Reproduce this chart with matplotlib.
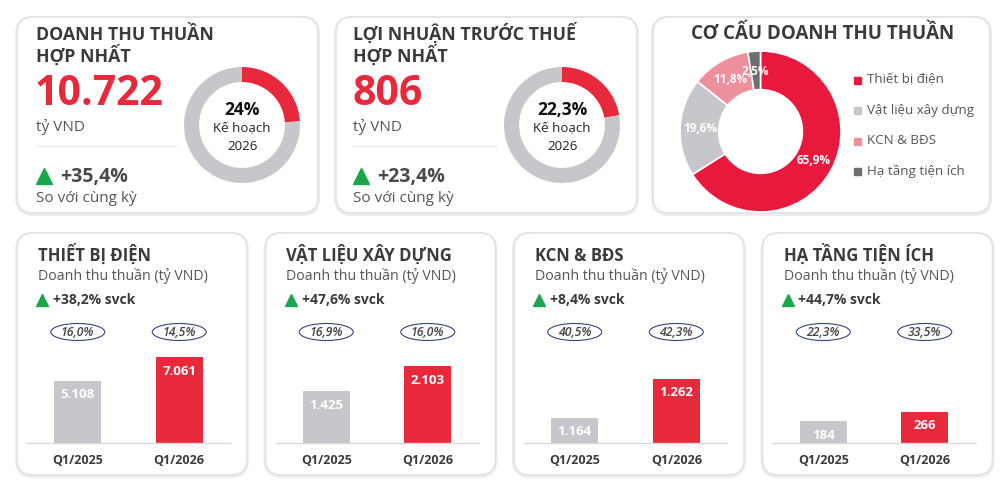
import matplotlib
matplotlib.use("Agg")
import numpy as np
import matplotlib.pyplot as plt
from matplotlib.patches import FancyBboxPatch, Ellipse

plt.rcParams['font.family'] = ['Open Sans', 'DejaVu Sans']

# ---- data ----
kpi_titles = [["DOANH THU THUẦN", "HỢP NHẤT"], ["LỢI NHUẬN TRƯỚC THUẾ", "HỢP NHẤT"]]
kpi_values = ["10.722", "806"]
kpi_growth = ["+35,4%", "+23,4%"]
kpi_plan_pct = [24.0, 22.3]

seg_names = ["Thiết bị điện", "Vật liệu xây dựng", "KCN & BĐS", "Hạ tầng tiện ích"]
seg_share = [65.9, 19.6, 11.8, 2.5]

seg_titles = ["THIẾT BỊ ĐIỆN", "VẬT LIỆU XÂY DỰNG", "KCN & BĐS", "HẠ TẦNG TIỆN ÍCH"]
seg_growth = ["+38,2% svck", "+47,6% svck", "+8,4% svck", "+44,7% svck"]
periods = ["Q1/2025", "Q1/2026"]
rev_2025 = [5108, 1425, 1164, 184]
rev_2026 = [7061, 2103, 1262, 266]
margin_2025 = ["16,0%", "16,9%", "40,5%", "22,3%"]
margin_2026 = ["14,5%", "16,0%", "42,3%", "33,5%"]

# ---- styles ----
RED = '#e8293b'
PIE_RED = '#e8193c'
GREY = '#c7c6cb'
PINK = '#ee8f9c'
DARK = '#6e6e6e'
GREEN = '#1ba64b'
TITLE = '#3b3b3b'
BODY = '#555555'
seg_colors = [PIE_RED, GREY, PINK, DARK]
bar_ylims = [(0, 11800), (0, 3930), (1101, 1461), (0, 1218)]

W, H = 1000, 483
fig = plt.figure(figsize=(10, 4.83), dpi=100)
fig.patch.set_facecolor('white')
bg = fig.add_axes([0, 0, 1, 1])
bg.set_xlim(0, W)
bg.set_ylim(H, 0)
bg.axis('off')


def card(x0, y0, x1, y1):
    # soft shadow then the card itself
    bg.add_patch(FancyBboxPatch((x0, y0 + 1), x1 - x0, y1 - y0,
                                boxstyle="round,pad=0,rounding_size=16",
                                fc='none', ec='#eeeeee', lw=3))
    bg.add_patch(FancyBboxPatch((x0, y0), x1 - x0, y1 - y0,
                                boxstyle="round,pad=0,rounding_size=16",
                                fc='white', ec='#e2e2e2', lw=1.2))


def fig_axes(cx, cy, r):
    return fig.add_axes([(cx - r) / W, (H - cy - r) / H, 2 * r / W, 2 * r / H])


# ---- top KPI cards ----
for i, (x0, x1, dcx) in enumerate([(17, 318, 242), (336, 637, 562)]):
    card(x0, 17, x1, 213)
    tx = x0 + 19 if i == 0 else x0 + 17
    bg.text(tx, 40, kpi_titles[i][0], fontsize=12.8, fontweight='bold', color=TITLE, va='baseline')
    bg.text(tx, 62, kpi_titles[i][1], fontsize=12.8, fontweight='bold', color=TITLE, va='baseline')
    bg.text(tx - 1, 105, kpi_values[i], fontsize=29.5, fontweight='bold', color=RED, va='baseline')
    bg.text(tx, 131, "tỷ VND", fontsize=11, color=BODY, va='baseline')
    bg.plot([tx, x0 + 160], [146, 146], color='#ebebeb', lw=1)
    bg.plot([tx + 8], [176], marker='^', ms=11, color=GREEN, mec=GREEN)
    bg.text(tx + 24, 182, kpi_growth[i], fontsize=14, fontweight='bold', color='#4a4a4a', va='baseline')
    bg.text(tx, 202, "So với cùng kỳ", fontsize=11, color=BODY, va='baseline')

    ax = fig_axes(dcx, 125, 58)
    ax.pie([kpi_plan_pct[i], 100 - kpi_plan_pct[i]], colors=[RED, GREY], startangle=90,
           counterclock=False, wedgeprops=dict(width=0.26, edgecolor='none'))
    ax.set_xlim(-1, 1)
    ax.set_ylim(-1, 1)
    pct = f"{kpi_plan_pct[i]:g}".replace('.', ',') + "%"
    bg.text(dcx, 110, pct, fontsize=12.5, fontweight='bold', color='#111111', ha='center', va='center')
    bg.text(dcx, 129, "Kế hoạch", fontsize=9.5, color='#222222', ha='center', va='center')
    bg.text(dcx, 146, "2026", fontsize=9.5, color='#222222', ha='center', va='center')

# ---- revenue structure card ----
card(653, 17, 990, 213)
bg.text(823, 39, "CƠ CẤU DOANH THU THUẦN", fontsize=13.5, fontweight='bold', color=TITLE,
        ha='center', va='baseline')
pax = fig_axes(760.5, 131.5, 80.5)
wedges, _ = pax.pie(seg_share, colors=seg_colors, startangle=90, counterclock=False,
                    wedgeprops=dict(width=0.48, edgecolor='white', linewidth=1.2))
pax.set_xlim(-1, 1)
pax.set_ylim(-1, 1)
for w, v in zip(wedges, seg_share):
    ang = np.deg2rad((w.theta1 + w.theta2) / 2)
    pax.text(0.75 * np.cos(ang), 0.75 * np.sin(ang), f"{v:.1f}".replace('.', ',') + "%",
             ha='center', va='center', fontsize=8.5, fontweight='bold', color='white')
for k, (name, col) in enumerate(zip(seg_names, seg_colors)):
    y = 80 + k * 30.5
    bg.add_patch(plt.Rectangle((854, y - 3.5), 7, 7, color=col))
    bg.text(867, y, name, fontsize=9.6, color=BODY, va='center')

# ---- segment bar cards ----
for i in range(4):
    x0 = 17 + i * 248.5
    card(x0, 233, x0 + 230, 475)
    bg.text(x0 + 21, 261, seg_titles[i], fontsize=12, fontweight='bold', color=TITLE, va='baseline')
    bg.text(x0 + 21, 280, "Doanh thu thuần (tỷ VND)", fontsize=10.2, color=BODY, va='baseline')
    bg.plot([x0 + 25], [300], marker='^', ms=8, color=GREEN, mec=GREEN)
    bg.text(x0 + 36, 304, seg_growth[i], fontsize=10, fontweight='bold', color=TITLE, va='baseline')

    ax = fig.add_axes([(x0 + 10) / W, (H - 443) / H, 203 / W, 143 / H])
    vals = [rev_2025[i], rev_2026[i]]
    bars = ax.bar([0, 1], vals, width=0.46, color=[GREY, RED], zorder=2)
    ax.set_xlim(-0.5, 1.5)
    ax.set_ylim(*bar_ylims[i])
    ax.set_facecolor('none')
    for s in ['top', 'left', 'right']:
        ax.spines[s].set_visible(False)
    ax.spines['bottom'].set_color('#d9d9d9')
    ax.spines['bottom'].set_linewidth(1)
    ax.set_yticks([])
    ax.set_xticks([0, 1])
    ax.set_xticklabels(periods, fontsize=9, fontweight='bold', color=TITLE)
    ax.tick_params(axis='x', length=0, pad=8)
    for b, v in zip(bars, vals):
        ax.annotate(f"{v:,}".replace(',', '.'), (b.get_x() + b.get_width() / 2, b.get_height()),
                    xytext=(0, -10), textcoords='offset points', ha='center', va='center',
                    fontsize=9.5, fontweight='bold', color='white', zorder=3)
    # margin ovals above the bars
    for frac, m in zip([0.25, 0.75], [margin_2025[i], margin_2026[i]]):
        ex = x0 + 10 + 203 * frac
        bg.add_patch(Ellipse((ex, 332), 54, 17, fc='white', ec='#34467e', lw=0.8))
        bg.text(ex, 332, m, ha='center', va='center', fontsize=8.8, style='italic',
                fontweight='semibold', color='#444444')

fig.savefig('out.png', dpi=100, facecolor=fig.get_facecolor())
